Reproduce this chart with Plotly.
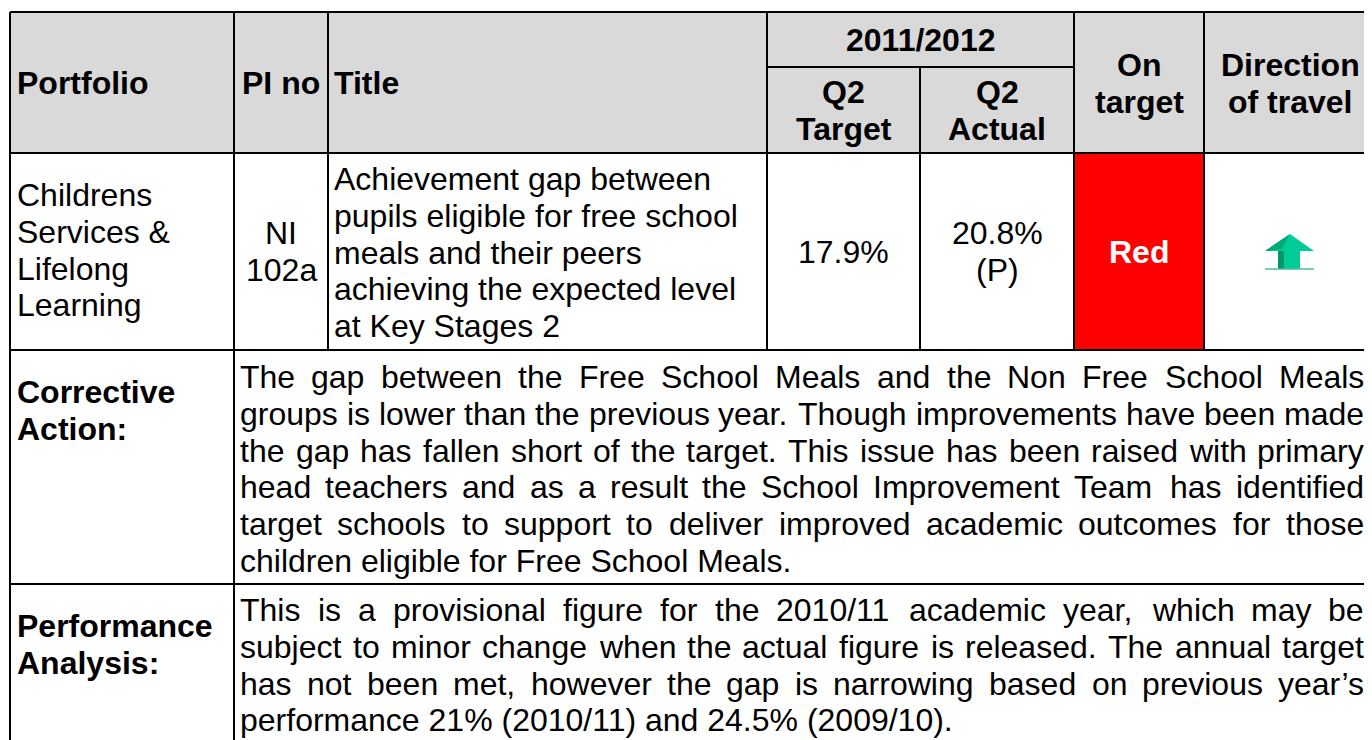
import plotly.graph_objects as go

# ---------------- data ----------------
header_cols = ["Portfolio", "PI no", "Title"]
period_label = "2011/2012"
q2_target_header = ["Q2", "Target"]
q2_actual_header = ["Q2", "Actual"]
on_target_header = ["On", "target"]
direction_header = ["Direction", "of travel"]

portfolio_lines = ["Childrens", "Services &", "Lifelong", "Learning"]
pi_lines = ["NI", "102a"]
title_lines = [
    "Achievement gap between",
    "pupils eligible for free school",
    "meals and their peers",
    "achieving the expected level",
    "at Key Stages 2",
]
q2_target_value = ["17.9%"]
q2_actual_value = ["20.8%", "(P)"]
on_target_value = "Red"
direction_value = "up"

corrective_label = ["Corrective", "Action:"]
corrective_lines = [
    "The gap between the Free School Meals and the Non Free School Meals",
    "groups is lower than the previous year. Though improvements have been made",
    "the gap has fallen short of the target. This issue has been raised with primary",
    "head teachers and as a result the School Improvement Team has identified",
    "target schools to support to deliver improved academic outcomes for those",
    "children eligible for Free School Meals.",
]
performance_label = ["Performance", "Analysis:"]
performance_lines = [
    "This is a provisional figure for the 2010/11 academic year, which may be",
    "subject to minor change when the actual figure is released. The annual target",
    "has not been met, however the gap is narrowing based on previous year\u2019s",
    "performance 21% (2010/11) and 24.5% (2009/10).",
]

# ---------------- layout constants ----------------
W, H = 1372, 740
PAGE_MARGIN = 8          # default body margin of the html page
FONT = "Liberation Sans, Arial, sans-serif"
FS = 32
LS = 36.8
PADX = 1                 # annotation inner offset compensation
GREY = "#D9D9D9"
RED = "#FF0000"
XC = [10, 234, 328, 767, 920, 1074, 1204, 1390]   # column boundaries
Y_TOP, Y_SUB, Y_HEAD, Y_ROW, Y_CORR, Y_END = 12, 67, 153, 350, 584, 760

# Arial / Liberation Sans advance widths (1/1000 em)
AW = {' ': 278, '!': 278, '%': 889, '&': 667, "'": 191, '(': 333, ')': 333, ',': 278,
      '-': 333, '.': 278, '/': 278, ':': 278, ';': 278, '?': 556, '\u2019': 222}
for c in "0123456789":
    AW[c] = 556
AW.update(dict(A=667, B=667, C=722, D=722, E=667, F=611, G=778, H=722, I=278, J=500,
               K=667, L=556, M=833, N=722, O=778, P=667, Q=778, R=722, S=667, T=611,
               U=722, V=667, W=944, X=667, Y=667, Z=611))
AW.update(dict(a=556, b=556, c=500, d=556, e=556, f=278, g=556, h=556, i=222, j=222,
               k=500, l=222, m=833, n=556, o=556, p=556, q=556, r=333, s=500, t=278,
               u=556, v=500, w=722, x=500, y=500, z=500))


def tw(s):
    return sum(AW.get(c, 556) for c in s) * FS / 1000.0


fig = go.Figure()
shapes = []
annotations = []


def rect(x0, y0, x1, y1, color):
    shapes.append(dict(type="rect", x0=x0, y0=y0, x1=x1, y1=y1, xref="x", yref="y",
                       fillcolor=color, line=dict(width=0), layer="below"))


def line(x0, y0, x1, y1, w=2):
    shapes.append(dict(type="line", x0=x0, y0=y0, x1=x1, y1=y1, xref="x", yref="y",
                       line=dict(color="black", width=w), layer="above"))


def text(s, x, y, anchor="left", bold=False, color="black"):
    if anchor == "left":
        x = x - PADX
    elif anchor == "right":
        x = x - PADX
    annotations.append(dict(
        text=("<b>%s</b>" % s) if bold else s, x=x, y=y, xref="x", yref="y",
        xanchor=anchor, yanchor="middle", showarrow=False, borderpad=0, borderwidth=0,
        font=dict(family=FONT, size=FS, color=color)))


def justified(s, x0, x1, y, last=False):
    if last:
        text(s, x0, y)
        return
    words = s.split(" ")
    widths = [tw(w_) for w_ in words]
    gap = (x1 - x0 - sum(widths)) / (len(words) - 1)
    x = x0
    for k, (w_, wd) in enumerate(zip(words, widths)):
        if k == len(words) - 1:
            text(w_, x1, y, anchor="right")
        else:
            text(w_, x, y)
        x += wd + gap


# fills
rect(XC[0], Y_TOP, XC[-1], Y_HEAD, GREY)
rect(XC[5], Y_HEAD, XC[6], Y_ROW, RED)

# horizontal lines
line(XC[0], Y_TOP, XC[-1], Y_TOP)
line(XC[3], Y_SUB, XC[5], Y_SUB)
line(XC[0], Y_HEAD, XC[-1], Y_HEAD)
line(XC[0], Y_ROW, XC[-1], Y_ROW)
line(XC[0], Y_CORR, XC[-1], Y_CORR)
# vertical lines
line(XC[0], Y_TOP, XC[0], Y_END)
line(XC[1], Y_TOP, XC[1], Y_END)
for xi in (XC[2], XC[3], XC[5], XC[6]):
    line(xi, Y_TOP, xi, Y_ROW)
line(XC[4], Y_SUB, XC[4], Y_ROW)

# header texts
cx = [(XC[i] + XC[i + 1]) / 2 for i in range(len(XC) - 1)]
text(header_cols[0], 18, 83, bold=True)
text(header_cols[1], cx[1], 83, anchor="center", bold=True)
text(header_cols[2], 335, 83, bold=True)
text(period_label, (XC[3] + XC[5]) / 2, 40, anchor="center", bold=True)
for k, s in enumerate(q2_target_header):
    text(s, cx[3], 92 + k * LS, anchor="center", bold=True)
for k, s in enumerate(q2_actual_header):
    text(s, cx[4], 92 + k * LS, anchor="center", bold=True)
for k, s in enumerate(on_target_header):
    text(s, cx[5], 65 + k * LS, anchor="center", bold=True)
for k, s in enumerate(direction_header):
    text(s, 1290, 65 + k * LS, anchor="center", bold=True)

# data row
for k, s in enumerate(portfolio_lines):
    text(s, 18, 195 + k * LS)
for k, s in enumerate(pi_lines):
    text(s, cx[1], 233 + k * LS, anchor="center")
for k, s in enumerate(title_lines):
    text(s, 335, 179 + k * LS)
for k, s in enumerate(q2_target_value):
    text(s, cx[3], 252 + k * LS, anchor="center")
for k, s in enumerate(q2_actual_value):
    text(s, cx[4], 233 + k * LS, anchor="center")
text(on_target_value, cx[5], 252, anchor="center", bold=True, color="white")

# direction arrow (up)
if direction_value == "up":
    ax, ay = 1290, 252
    shapes.append(dict(type="path", xref="x", yref="y", layer="above",
                       path="M %f %f L %f %f L %f %f L %f %f L %f %f L %f %f L %f %f Z" % (
                           ax, ay - 18, ax + 24, ay - 1, ax + 10, ay - 1, ax + 10, ay + 17,
                           ax - 12, ay + 17, ax - 12, ay - 1, ax - 25, ay - 1),
                       fillcolor="#00CC99", line=dict(width=0)))
    shapes.append(dict(type="path", xref="x", yref="y", layer="above",
                       path="M %f %f L %f %f L %f %f L %f %f Z" % (
                           ax - 12, ay - 1, ax - 6, ay - 1, ax - 6, ay + 17, ax - 12, ay + 17),
                       fillcolor="#009966", line=dict(width=0)))
    shapes.append(dict(type="path", xref="x", yref="y", layer="above",
                       path="M %f %f L %f %f L %f %f Z" % (
                           ax, ay - 18, ax - 25, ay - 1, ax - 8, ay - 3),
                       fillcolor="#00AA77", line=dict(width=0)))
    shapes.append(dict(type="line", xref="x", yref="y", layer="above",
                       x0=ax - 25, x1=ax + 24, y0=ay + 17, y1=ay + 17,
                       line=dict(color="#55B893", width=1.5)))

# corrective action
for k, s in enumerate(corrective_label):
    text(s, 18, 392 + k * LS, bold=True)
for k, s in enumerate(corrective_lines):
    justified(s, 241, 1365, 377 + k * LS, last=(k == len(corrective_lines) - 1))

# performance analysis
for k, s in enumerate(performance_label):
    text(s, 18, 626 + k * LS, bold=True)
for k, s in enumerate(performance_lines):
    justified(s, 241, 1365, 610 + k * LS, last=(k == len(performance_lines) - 1))

# the page adds an 8px body margin: size the figure so that data units == window pixels
fig.update_layout(
    width=W - PAGE_MARGIN, height=H - PAGE_MARGIN,
    margin=dict(l=0, r=0, t=0, b=0, pad=0), autosize=False,
    paper_bgcolor="white", plot_bgcolor="white",
    xaxis=dict(range=[PAGE_MARGIN, W], visible=False, fixedrange=True),
    yaxis=dict(range=[H, PAGE_MARGIN], visible=False, fixedrange=True),
    shapes=shapes, annotations=annotations, showlegend=False,
)
fig.write_html("out.html", config={"displayModeBar": False})
